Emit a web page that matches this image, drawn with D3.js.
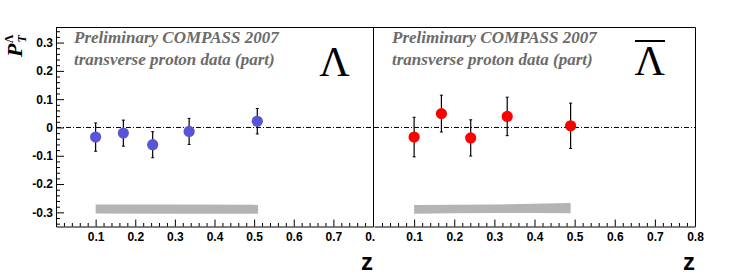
<!DOCTYPE html>
<html>
<head>
<meta charset="utf-8">
<script src="https://cdn.jsdelivr.net/npm/d3@7"></script>
<style>
  body { margin: 0; background: #fff; }
  .tick text { font-family: "Liberation Sans", Arial, sans-serif; font-weight: bold; font-size: 12px; fill: #000; }
</style>
</head>
<body>
<div class="canvas"></div>
<script>
// data
const zLambda   = [0.100, 0.170, 0.244, 0.336, 0.508];
const pLambda   = [-0.034, -0.020, -0.061, -0.014, 0.022];
const eLambda   = [0.050, 0.046, 0.046, 0.046, 0.045];

const zAnti     = [0.100, 0.168, 0.241, 0.332, 0.490];
const pAnti     = [-0.034, 0.049, -0.037, 0.039, 0.006];
const eAnti     = [0.070, 0.065, 0.064, 0.068, 0.080];

// systematic bands
const bandZLambda  = [0.100, 0.300, 0.510];
const bandHiLambda = [-0.272, -0.272, -0.273];
const bandLoLambda = [-0.304, -0.305, -0.305];

const bandZAnti  = [0.100, 0.200, 0.300, 0.400, 0.490];
const bandHiAnti = [-0.274, -0.273, -0.272, -0.270, -0.267];
const bandLoAnti = [-0.305, -0.303, -0.302, -0.302, -0.303];

const xMajor = [0.1, 0.2, 0.3, 0.4, 0.5, 0.6, 0.7, 0.8];
const yMajor = [-0.3, -0.2, -0.1, 0, 0.1, 0.2, 0.3];

const W = 747, H = 280;
const frameTop = 27, frameBottom = 226.5;

const svg = d3.select('.canvas')
  .append('svg')
  .attr('width', W)
  .attr('height', H);

const y = d3.scaleLinear().domain([-0.35, 0.355]).range([frameBottom, frameTop]);

const panels = [
  { x0: 56, x1: 373, z: zLambda, p: pLambda, e: eLambda, color: '#5954d8',
    bz: bandZLambda, bhi: bandHiLambda, blo: bandLoLambda, yAxis: true, id: 'l' },
  { x0: 374, x1: 695, z: zAnti, p: pAnti, e: eAnti, color: '#ff0000',
    bz: bandZAnti, bhi: bandHiAnti, blo: bandLoAnti, yAxis: false, id: 'r' }
];

// clip for left panel tick labels (right pad covers the "8")
svg.append('clipPath').attr('id', 'clipL')
  .append('rect').attr('x', -20).attr('y', -300).attr('width', 395).attr('height', 600);

panels.forEach(pn => {
  const x = d3.scaleLinear().domain([0, 0.8]).range([pn.x0, pn.x1]);
  const g = svg.append('g');

  // band
  const band = pn.bz.map((z, i) => ({ z, hi: pn.bhi[i], lo: pn.blo[i] }));
  g.append('path')
    .datum(band)
    .attr('fill', '#b4b4b4')
    .attr('d', d3.area().x(d => x(d.z)).y0(d => y(d.lo)).y1(d => y(d.hi)));

  // zero line
  g.append('line')
    .attr('x1', pn.x0).attr('x2', pn.x1)
    .attr('y1', y(0)).attr('y2', y(0))
    .attr('stroke', '#000')
    .attr('stroke-width', 1)
    .attr('stroke-dasharray', '5,2,1,2');

  // x axis, minor then major
  const minor = d3.range(0, 41).map(i => i * 0.02).filter(v => Math.abs(v * 10 - Math.round(v * 10)) > 1e-6);
  g.append('g')
    .attr('transform', `translate(0,${frameBottom})`)
    .call(d3.axisBottom(x).tickValues(minor).tickFormat('').tickSize(-3.5))
    .call(a => a.select('.domain').remove());
  const xa = g.append('g')
    .attr('transform', `translate(0,${frameBottom})`)
    .call(d3.axisBottom(x).tickValues(xMajor).tickSize(-7).tickPadding(6).tickSizeOuter(0)
      .tickFormat(d => d.toFixed(1)));
  if (pn.id === 'l') xa.attr('clip-path', 'url(#clipL)');
  g.selectAll('.domain').attr('stroke', '#000');

  if (pn.yAxis) {
    const yMinor = d3.range(-17, 18).map(i => i * 0.02).filter(v => Math.abs(v * 10 - Math.round(v * 10)) > 1e-6);
    g.append('g')
      .attr('transform', `translate(${pn.x0},0)`)
      .call(d3.axisLeft(y).tickValues(yMinor).tickFormat('').tickSize(-4))
      .call(a => a.select('.domain').remove());
    g.append('g')
      .attr('transform', `translate(${pn.x0},0)`)
      .call(d3.axisLeft(y).tickValues(yMajor).tickSize(-8).tickPadding(3).tickSizeOuter(0)
        .tickFormat(d => d === 0 ? '0' : d.toFixed(1)));
  } else {
    g.append('line')
      .attr('x1', pn.x0 - 0.5).attr('x2', pn.x0 - 0.5)
      .attr('y1', frameTop).attr('y2', frameBottom)
      .attr('stroke', '#000');
  }

  // top and right frame
  g.append('path')
    .attr('d', `M${pn.x0},${frameTop + 0.5}H${pn.x1 + 0.5}V${frameBottom}`)
    .attr('fill', 'none')
    .attr('stroke', '#000');

  // error bars
  const pts = pn.z.map((z, i) => ({ z, p: pn.p[i], e: pn.e[i] }));
  const eb = g.selectAll('.eb').data(pts).enter().append('g');
  eb.append('line')
    .attr('x1', d => x(d.z)).attr('x2', d => x(d.z))
    .attr('y1', d => y(d.p + d.e)).attr('y2', d => y(d.p - d.e))
    .attr('stroke', '#000').attr('stroke-width', 1.2);
  eb.append('line')
    .attr('x1', d => x(d.z) - 1.5).attr('x2', d => x(d.z) + 1.5)
    .attr('y1', d => y(d.p + d.e)).attr('y2', d => y(d.p + d.e))
    .attr('stroke', '#000').attr('stroke-width', 1);
  eb.append('line')
    .attr('x1', d => x(d.z) - 1.5).attr('x2', d => x(d.z) + 1.5)
    .attr('y1', d => y(d.p - d.e)).attr('y2', d => y(d.p - d.e))
    .attr('stroke', '#000').attr('stroke-width', 1);
  g.selectAll('.pt').data(pts).enter().append('circle')
    .attr('cx', d => x(d.z)).attr('cy', d => y(d.p))
    .attr('r', 5.6)
    .attr('fill', pn.color);

  // preliminary text
  const tx = pn.x0 + 18;
  g.append('text')
    .attr('x', tx).attr('y', 43)
    .attr('font-family', '"Liberation Serif", "Times New Roman", serif')
    .attr('font-weight', 'bold').attr('font-style', 'italic')
    .attr('font-size', 17).attr('fill', '#6b6b6b')
    .text('Preliminary COMPASS 2007');
  g.append('text')
    .attr('x', tx).attr('y', 65)
    .attr('font-family', '"Liberation Serif", "Times New Roman", serif')
    .attr('font-weight', 'bold').attr('font-style', 'italic')
    .attr('font-size', 17).attr('fill', '#6b6b6b')
    .text('transverse proton data (part)');

  // z label
  g.append('text')
    .attr('x', pn.x1).attr('y', 270)
    .attr('text-anchor', 'end')
    .attr('font-family', '"Liberation Sans", Arial, sans-serif')
    .attr('font-weight', 'bold').attr('font-size', 24)
    .text('z');
});

// Lambda symbols
svg.append('text')
  .attr('x', 334.5).attr('y', 76)
  .attr('text-anchor', 'middle')
  .attr('font-family', '"Liberation Serif", "Times New Roman", serif')
  .attr('font-size', 42)
  .text('Λ');
svg.append('text')
  .attr('x', 649.7).attr('y', 75)
  .attr('text-anchor', 'middle')
  .attr('font-family', '"Liberation Serif", "Times New Roman", serif')
  .attr('font-size', 42)
  .text('Λ');
svg.append('line')
  .attr('x1', 635).attr('x2', 665)
  .attr('y1', 41).attr('y2', 41)
  .attr('stroke', '#000').attr('stroke-width', 2);

// y title: P_T^Lambda
const yt = svg.append('text')
  .attr('transform', 'translate(22,57) rotate(-90)')
  .attr('font-family', '"Liberation Serif", "Times New Roman", serif')
  .attr('font-weight', 'bold').attr('font-style', 'italic');
yt.append('tspan').attr('font-size', 22).text('P');
yt.append('tspan').attr('font-size', 12).attr('dy', 4).attr('dx', 1).text('T');
yt.append('tspan').attr('font-size', 12).attr('dx', -8).attr('dy', -13).attr('font-style', 'normal').text('Λ');
</script>
</body>
</html>
